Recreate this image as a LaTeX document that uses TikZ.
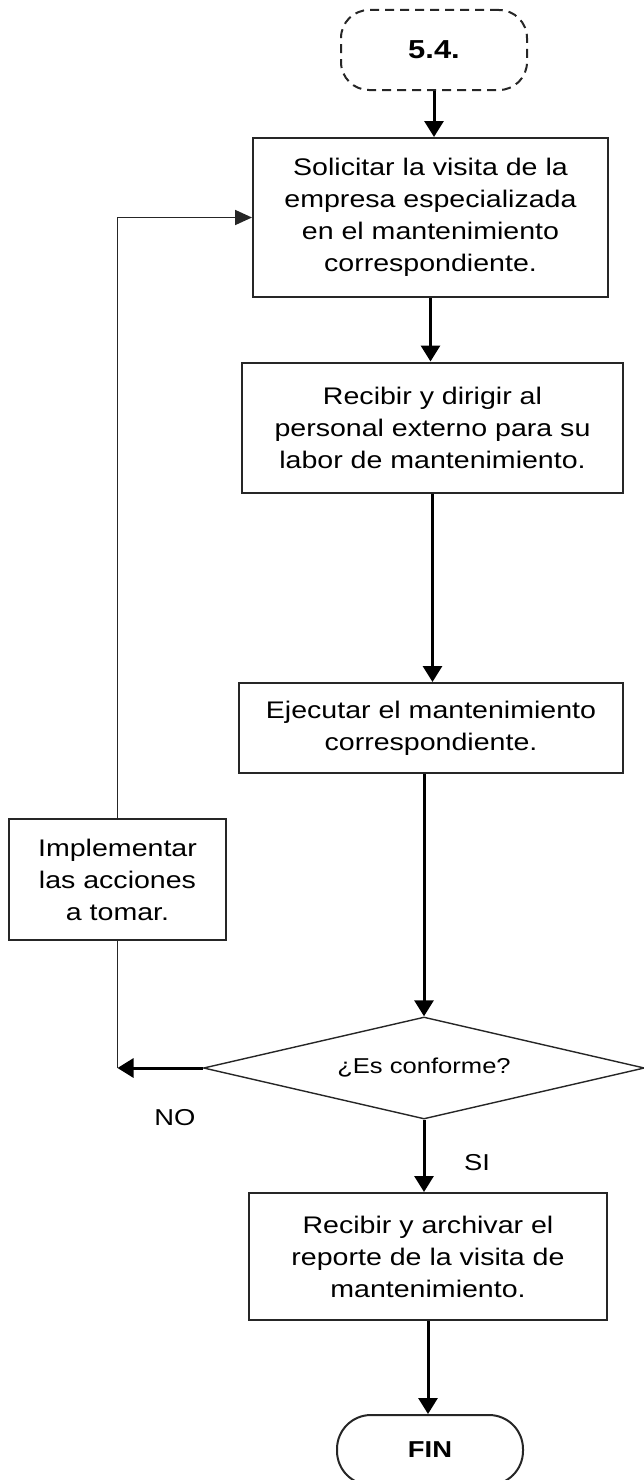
\documentclass[tikz,border=0pt]{standalone}
\usepackage{fontspec}
\setmainfont{Liberation Sans}[FakeStretch=1.19]
\usetikzlibrary{shapes.geometric,arrows.meta}

\begin{document}
\begin{tikzpicture}[x=1pt,y=-1pt,
    proc/.style={draw=black!85,line width=2pt,fill=white,align=center,inner sep=0pt,
      font=\fontsize{24}{32}\selectfont},
    term/.style={draw=black!85,line width=2pt,fill=white,inner sep=0pt,
      minimum width=186pt,font=\bfseries},
    decis/.style={diamond,draw=black!85,line width=1.4pt,fill=white,inner sep=0pt,aspect=4.3,
      minimum width=441pt,minimum height=102pt,font=\fontsize{21.5}{26}\selectfont},
    etiq/.style={inner sep=0pt,font=\fontsize{23}{27}\selectfont},
    flecha/.style={line width=3pt,-{Triangle[width=19pt,length=16pt]}},
    linea/.style={line width=1.8pt,draw=black!85}]
  \useasboundingbox (0,0) rectangle (644,1480);
  % ---------- main column ----------
  \node[term,dash pattern=on 9pt off 6pt,rounded corners=28pt,minimum height=80pt,
    font=\fontsize{26}{30}\selectfont\bfseries] (ini) at (434,50) {5.4.};
  \node[proc,minimum width=355pt,minimum height=159pt] (sol) at (430.5,217.5)
    {Solicitar la visita de la\\empresa especializada\\en el mantenimiento\\correspondiente.};
  \node[proc,minimum width=381pt,minimum height=130pt] (rec) at (432.5,427.5)
    {Recibir y dirigir al\\personal externo para su\\labor de mantenimiento.};
  \node[proc,minimum width=384pt,minimum height=90pt] (eje) at (431,728)
    {Ejecutar el mantenimiento\\correspondiente.};
  \node[decis] (conf) at (424,1068) {¿Es conforme?};
  \node[proc,minimum width=358pt,minimum height=127pt] (arch) at (428,1256.5)
    {Recibir y archivar el\\reporte de la visita de\\mantenimiento.};
  \node[term,rounded corners=34pt,minimum height=70pt,
    font=\fontsize{23}{27}\selectfont\bfseries] (fin) at (430,1450) {FIN};
  % ---------- return branch ----------
  \node[proc,minimum width=217pt,minimum height=121pt] (impl) at (117.5,879.5)
    {Implementar\\las acciones\\a tomar.};
  \node[etiq] (no) at (175,1118) {NO};
  \node[etiq] (si) at (477,1163) {SI};
  % ---------- connectors ----------
  \draw[flecha] (ini.south) -- (ini.south |- sol.north);
  \draw[flecha] (sol.south) -- (sol.south |- rec.north);
  \draw[flecha] (rec.south) -- (rec.south |- eje.north);
  \draw[flecha] (conf.north |- eje.south) -- (conf.north);
  \draw[flecha] (conf.south) -- (conf.south |- arch.north);
  \draw[flecha] (arch.south) -- (arch.south |- fin.north);
  \draw[flecha] (conf.west) -- (conf.west -| impl.south);
  \draw[linea] (impl.south) -- (impl.south |- conf.west);
  \draw[linea,-{Triangle[width=15pt,length=17pt]}] (impl.north) -- (impl.north |- sol.west) -- (sol.west);
\end{tikzpicture}
\end{document}
